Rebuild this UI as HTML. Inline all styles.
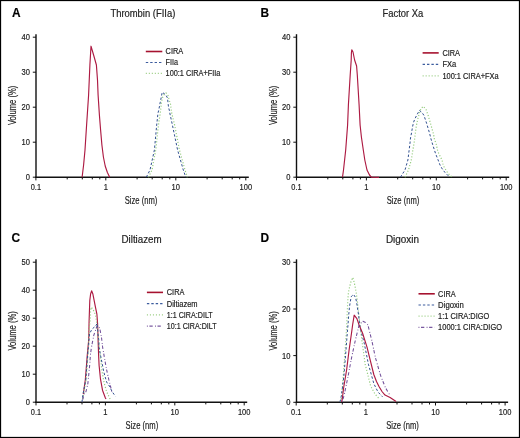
<!DOCTYPE html>
<html><head><meta charset="utf-8"><style>
html,body{margin:0;padding:0;background:#fff;}
svg{display:block;font-family:"Liberation Sans", sans-serif;will-change:transform;}
text{stroke:#222;stroke-width:0.18px;}
</style></head><body>
<svg width="520" height="438" viewBox="0 0 520 438">
<rect x="0" y="0" width="520" height="438" fill="#fff"/>
<rect x="0.5" y="0.5" width="519" height="437" fill="none" stroke="#000" stroke-width="1.25"/>
<text x="12.0" y="16.7" font-size="11.9" font-weight="bold" fill="#000">A</text>
<text x="142.85" y="16.8" font-size="10" fill="#222" text-anchor="middle" textLength="64.9" lengthAdjust="spacingAndGlyphs">Thrombin (FIIa)</text>
<line x1="36.0" y1="34.2" x2="36.0" y2="177.9" stroke="#111" stroke-width="1.4"/>
<line x1="35.3" y1="177.2" x2="248.8" y2="177.2" stroke="#111" stroke-width="1.4"/>
<line x1="32.8" y1="177.2" x2="36.0" y2="177.2" stroke="#111" stroke-width="1"/>
<text x="30.0" y="180.2" font-size="8.6" fill="#222" text-anchor="end" textLength="4.2" lengthAdjust="spacingAndGlyphs">0</text>
<line x1="32.8" y1="142.2" x2="36.0" y2="142.2" stroke="#111" stroke-width="1"/>
<text x="30.0" y="145.2" font-size="8.6" fill="#222" text-anchor="end" textLength="8.4" lengthAdjust="spacingAndGlyphs">10</text>
<line x1="32.8" y1="107.2" x2="36.0" y2="107.2" stroke="#111" stroke-width="1"/>
<text x="30.0" y="110.2" font-size="8.6" fill="#222" text-anchor="end" textLength="8.4" lengthAdjust="spacingAndGlyphs">20</text>
<line x1="32.8" y1="72.2" x2="36.0" y2="72.2" stroke="#111" stroke-width="1"/>
<text x="30.0" y="75.2" font-size="8.6" fill="#222" text-anchor="end" textLength="8.4" lengthAdjust="spacingAndGlyphs">30</text>
<line x1="32.8" y1="37.2" x2="36.0" y2="37.2" stroke="#111" stroke-width="1"/>
<text x="30.0" y="40.2" font-size="8.6" fill="#222" text-anchor="end" textLength="8.4" lengthAdjust="spacingAndGlyphs">40</text>
<line x1="35.9" y1="177.2" x2="35.9" y2="180.4" stroke="#111" stroke-width="1"/>
<line x1="67.2" y1="177.2" x2="67.2" y2="179.4" stroke="#111" stroke-width="1"/>
<line x1="82.3" y1="177.2" x2="82.3" y2="179.4" stroke="#111" stroke-width="1"/>
<line x1="92.3" y1="177.2" x2="92.3" y2="179.4" stroke="#111" stroke-width="1"/>
<line x1="99.8" y1="177.2" x2="99.8" y2="179.4" stroke="#111" stroke-width="1"/>
<line x1="105.8" y1="177.2" x2="105.8" y2="180.4" stroke="#111" stroke-width="1"/>
<line x1="137.1" y1="177.2" x2="137.1" y2="179.4" stroke="#111" stroke-width="1"/>
<line x1="152.2" y1="177.2" x2="152.2" y2="179.4" stroke="#111" stroke-width="1"/>
<line x1="162.2" y1="177.2" x2="162.2" y2="179.4" stroke="#111" stroke-width="1"/>
<line x1="169.8" y1="177.2" x2="169.8" y2="179.4" stroke="#111" stroke-width="1"/>
<line x1="175.8" y1="177.2" x2="175.8" y2="180.4" stroke="#111" stroke-width="1"/>
<line x1="207.1" y1="177.2" x2="207.1" y2="179.4" stroke="#111" stroke-width="1"/>
<line x1="222.2" y1="177.2" x2="222.2" y2="179.4" stroke="#111" stroke-width="1"/>
<line x1="232.2" y1="177.2" x2="232.2" y2="179.4" stroke="#111" stroke-width="1"/>
<line x1="239.7" y1="177.2" x2="239.7" y2="179.4" stroke="#111" stroke-width="1"/>
<line x1="245.8" y1="177.2" x2="245.8" y2="180.4" stroke="#111" stroke-width="1"/>
<text x="35.9" y="190.3" font-size="8.6" fill="#222" text-anchor="middle" textLength="10.3" lengthAdjust="spacingAndGlyphs">0.1</text>
<text x="105.8" y="190.3" font-size="8.6" fill="#222" text-anchor="middle" textLength="4.2" lengthAdjust="spacingAndGlyphs">1</text>
<text x="175.8" y="190.3" font-size="8.6" fill="#222" text-anchor="middle" textLength="8.4" lengthAdjust="spacingAndGlyphs">10</text>
<text x="245.8" y="190.3" font-size="8.6" fill="#222" text-anchor="middle" textLength="12.5" lengthAdjust="spacingAndGlyphs">100</text>
<text x="141.0" y="203.5" font-size="10.8" fill="#222" text-anchor="middle" textLength="32.6" lengthAdjust="spacingAndGlyphs">Size (nm)</text>
<text transform="translate(16.0,105.4) rotate(-90)" x="0" y="0" font-size="10.0" fill="#222" text-anchor="middle" textLength="39.4" lengthAdjust="spacingAndGlyphs">Volume (%)</text>
<line x1="145.8" y1="51.5" x2="162.3" y2="51.5" stroke="#a6122f"  stroke-width="1.6"/>
<text x="165.6" y="54.4" font-size="8.4" fill="#222" textLength="17.6" lengthAdjust="spacingAndGlyphs">CIRA</text>
<line x1="145.8" y1="62.5" x2="162.3" y2="62.5" stroke="#3c5c9e" stroke-dasharray="2.4 2.0" stroke-width="1.2"/>
<text x="165.6" y="65.4" font-size="8.4" fill="#222" textLength="12.5" lengthAdjust="spacingAndGlyphs">FIIa</text>
<line x1="145.8" y1="73.4" x2="162.3" y2="73.4" stroke="#a2d18c" stroke-dasharray="1.1 1.9" stroke-width="1.3"/>
<text x="165.6" y="76.3" font-size="8.4" fill="#222" textLength="54.8" lengthAdjust="spacingAndGlyphs">100:1 CIRA+FIIa</text>
<polyline points="82.1,177.2 83.6,165.0 85.0,150.0 86.6,125.0 88.6,95.0 89.9,65.0 91.0,46.2 93.6,55.0 96.4,65.0 97.5,80.0 98.1,95.0 99.4,115.0 100.6,130.0 101.9,145.0 103.4,157.0 105.2,166.0 107.4,172.5 109.7,177.2" fill="none" stroke="#ad1a42"  stroke-width="1.15" stroke-linejoin="round"/>
<polyline points="146.3,177.2 150.0,170.0 154.4,150.0 156.7,125.0 158.0,113.0 158.8,110.0 159.8,104.5 160.5,101.0 161.5,96.0 162.2,92.2 165.8,94.9 167.5,98.0 168.0,102.5 168.5,107.0 169.5,111.0 170.0,114.0 172.4,125.0 177.6,150.0 183.3,170.0 185.8,177.2" fill="none" stroke="#30508f" stroke-dasharray="2.4 2.0" stroke-width="1.0" stroke-linejoin="round"/>
<polyline points="148.5,177.2 152.0,170.0 155.7,150.0 158.5,125.0 160.5,111.0 161.0,107.0 161.5,102.0 162.3,98.5 163.2,95.5 166.0,92.9 168.0,95.5 169.5,101.0 170.5,104.0 171.0,108.0 171.7,113.0 174.6,125.0 179.5,150.0 185.0,170.0 187.4,177.2" fill="none" stroke="#93cb7c" stroke-dasharray="1.1 1.9" stroke-width="1.2" stroke-linejoin="round"/>
<text x="260.6" y="16.6" font-size="11.9" font-weight="bold" fill="#000">B</text>
<text x="402.9" y="16.8" font-size="10" fill="#222" text-anchor="middle" textLength="40.8" lengthAdjust="spacingAndGlyphs">Factor Xa</text>
<line x1="296.5" y1="34.2" x2="296.5" y2="177.9" stroke="#111" stroke-width="1.4"/>
<line x1="295.8" y1="177.2" x2="509.2" y2="177.2" stroke="#111" stroke-width="1.4"/>
<line x1="293.3" y1="177.2" x2="296.5" y2="177.2" stroke="#111" stroke-width="1"/>
<text x="290.5" y="180.2" font-size="8.6" fill="#222" text-anchor="end" textLength="4.2" lengthAdjust="spacingAndGlyphs">0</text>
<line x1="293.3" y1="142.2" x2="296.5" y2="142.2" stroke="#111" stroke-width="1"/>
<text x="290.5" y="145.2" font-size="8.6" fill="#222" text-anchor="end" textLength="8.4" lengthAdjust="spacingAndGlyphs">10</text>
<line x1="293.3" y1="107.2" x2="296.5" y2="107.2" stroke="#111" stroke-width="1"/>
<text x="290.5" y="110.2" font-size="8.6" fill="#222" text-anchor="end" textLength="8.4" lengthAdjust="spacingAndGlyphs">20</text>
<line x1="293.3" y1="72.2" x2="296.5" y2="72.2" stroke="#111" stroke-width="1"/>
<text x="290.5" y="75.2" font-size="8.6" fill="#222" text-anchor="end" textLength="8.4" lengthAdjust="spacingAndGlyphs">30</text>
<line x1="293.3" y1="37.2" x2="296.5" y2="37.2" stroke="#111" stroke-width="1"/>
<text x="290.5" y="40.2" font-size="8.6" fill="#222" text-anchor="end" textLength="8.4" lengthAdjust="spacingAndGlyphs">40</text>
<line x1="296.5" y1="177.2" x2="296.5" y2="180.4" stroke="#111" stroke-width="1"/>
<line x1="327.8" y1="177.2" x2="327.8" y2="179.4" stroke="#111" stroke-width="1"/>
<line x1="342.8" y1="177.2" x2="342.8" y2="179.4" stroke="#111" stroke-width="1"/>
<line x1="352.9" y1="177.2" x2="352.9" y2="179.4" stroke="#111" stroke-width="1"/>
<line x1="360.4" y1="177.2" x2="360.4" y2="179.4" stroke="#111" stroke-width="1"/>
<line x1="366.4" y1="177.2" x2="366.4" y2="180.4" stroke="#111" stroke-width="1"/>
<line x1="397.7" y1="177.2" x2="397.7" y2="179.4" stroke="#111" stroke-width="1"/>
<line x1="412.7" y1="177.2" x2="412.7" y2="179.4" stroke="#111" stroke-width="1"/>
<line x1="422.8" y1="177.2" x2="422.8" y2="179.4" stroke="#111" stroke-width="1"/>
<line x1="430.3" y1="177.2" x2="430.3" y2="179.4" stroke="#111" stroke-width="1"/>
<line x1="436.3" y1="177.2" x2="436.3" y2="180.4" stroke="#111" stroke-width="1"/>
<line x1="467.6" y1="177.2" x2="467.6" y2="179.4" stroke="#111" stroke-width="1"/>
<line x1="482.6" y1="177.2" x2="482.6" y2="179.4" stroke="#111" stroke-width="1"/>
<line x1="492.7" y1="177.2" x2="492.7" y2="179.4" stroke="#111" stroke-width="1"/>
<line x1="500.2" y1="177.2" x2="500.2" y2="179.4" stroke="#111" stroke-width="1"/>
<line x1="506.2" y1="177.2" x2="506.2" y2="180.4" stroke="#111" stroke-width="1"/>
<text x="296.5" y="190.3" font-size="8.6" fill="#222" text-anchor="middle" textLength="10.3" lengthAdjust="spacingAndGlyphs">0.1</text>
<text x="366.4" y="190.3" font-size="8.6" fill="#222" text-anchor="middle" textLength="4.2" lengthAdjust="spacingAndGlyphs">1</text>
<text x="436.3" y="190.3" font-size="8.6" fill="#222" text-anchor="middle" textLength="8.4" lengthAdjust="spacingAndGlyphs">10</text>
<text x="506.2" y="190.3" font-size="8.6" fill="#222" text-anchor="middle" textLength="12.5" lengthAdjust="spacingAndGlyphs">100</text>
<text x="403.0" y="203.5" font-size="10.8" fill="#222" text-anchor="middle" textLength="32.6" lengthAdjust="spacingAndGlyphs">Size (nm)</text>
<text transform="translate(276.5,105.4) rotate(-90)" x="0" y="0" font-size="10.0" fill="#222" text-anchor="middle" textLength="39.4" lengthAdjust="spacingAndGlyphs">Volume (%)</text>
<line x1="422.6" y1="52.9" x2="438.7" y2="52.9" stroke="#a6122f"  stroke-width="1.6"/>
<text x="442.4" y="55.8" font-size="8.4" fill="#222" textLength="17.6" lengthAdjust="spacingAndGlyphs">CIRA</text>
<line x1="422.6" y1="64.3" x2="438.7" y2="64.3" stroke="#3c5c9e" stroke-dasharray="2.4 2.0" stroke-width="1.2"/>
<text x="442.4" y="67.2" font-size="8.4" fill="#222" textLength="13.8" lengthAdjust="spacingAndGlyphs">FXa</text>
<line x1="422.6" y1="75.8" x2="438.7" y2="75.8" stroke="#a2d18c" stroke-dasharray="1.1 1.9" stroke-width="1.3"/>
<text x="442.4" y="78.7" font-size="8.4" fill="#222" textLength="56.2" lengthAdjust="spacingAndGlyphs">100:1 CIRA+FXa</text>
<polyline points="342.5,177.2 343.5,170.0 345.7,150.0 347.6,125.0 348.4,105.0 350.2,75.0 351.2,60.0 351.4,53.0 351.8,49.8 353.0,52.0 354.6,60.0 356.6,66.0 357.3,75.0 359.1,105.0 360.1,125.0 361.4,137.0 363.3,150.0 364.8,160.0 367.0,170.0 369.5,175.0 371.4,177.2 379.0,177.4" fill="none" stroke="#ad1a42"  stroke-width="1.15" stroke-linejoin="round"/>
<polyline points="400.4,177.2 405.0,170.0 407.9,160.0 409.9,144.0 410.5,138.0 411.5,133.0 412.5,127.0 413.5,122.5 414.8,119.0 416.6,115.5 419.4,110.4 422.0,112.5 424.0,115.5 425.5,120.0 427.0,124.5 428.0,128.0 429.5,133.0 431.0,139.0 432.5,144.0 435.4,153.1 436.9,157.0 438.5,161.0 440.0,165.0 442.3,169.0 445.0,172.5 448.0,175.5 449.0,177.2" fill="none" stroke="#30508f" stroke-dasharray="2.4 2.0" stroke-width="1.0" stroke-linejoin="round"/>
<polyline points="405.0,177.2 408.5,170.0 411.3,160.0 414.5,140.0 415.5,132.0 416.5,125.0 418.0,118.0 419.5,113.0 421.0,108.5 423.4,106.4 426.0,109.5 428.0,115.0 429.5,120.0 431.5,127.0 433.5,134.0 434.5,140.0 436.0,143.0 437.7,151.0 439.0,154.0 440.5,157.0 442.0,160.0 443.0,164.0 444.5,168.0 446.0,170.0 447.5,172.5 449.5,175.0 452.0,177.2" fill="none" stroke="#93cb7c" stroke-dasharray="1.1 1.9" stroke-width="1.2" stroke-linejoin="round"/>
<text x="11.6" y="241.9" font-size="11.9" font-weight="bold" fill="#000">C</text>
<text x="141.6" y="242.7" font-size="10" fill="#222" text-anchor="middle" textLength="40.2" lengthAdjust="spacingAndGlyphs">Diltiazem</text>
<line x1="36.0" y1="259.2" x2="36.0" y2="402.9" stroke="#111" stroke-width="1.4"/>
<line x1="35.3" y1="402.2" x2="247.2" y2="402.2" stroke="#111" stroke-width="1.4"/>
<line x1="32.8" y1="402.2" x2="36.0" y2="402.2" stroke="#111" stroke-width="1"/>
<text x="30.0" y="405.2" font-size="8.6" fill="#222" text-anchor="end" textLength="4.2" lengthAdjust="spacingAndGlyphs">0</text>
<line x1="32.8" y1="374.2" x2="36.0" y2="374.2" stroke="#111" stroke-width="1"/>
<text x="30.0" y="377.2" font-size="8.6" fill="#222" text-anchor="end" textLength="8.4" lengthAdjust="spacingAndGlyphs">10</text>
<line x1="32.8" y1="346.2" x2="36.0" y2="346.2" stroke="#111" stroke-width="1"/>
<text x="30.0" y="349.2" font-size="8.6" fill="#222" text-anchor="end" textLength="8.4" lengthAdjust="spacingAndGlyphs">20</text>
<line x1="32.8" y1="318.2" x2="36.0" y2="318.2" stroke="#111" stroke-width="1"/>
<text x="30.0" y="321.2" font-size="8.6" fill="#222" text-anchor="end" textLength="8.4" lengthAdjust="spacingAndGlyphs">30</text>
<line x1="32.8" y1="290.2" x2="36.0" y2="290.2" stroke="#111" stroke-width="1"/>
<text x="30.0" y="293.2" font-size="8.6" fill="#222" text-anchor="end" textLength="8.4" lengthAdjust="spacingAndGlyphs">40</text>
<line x1="32.8" y1="262.2" x2="36.0" y2="262.2" stroke="#111" stroke-width="1"/>
<text x="30.0" y="265.2" font-size="8.6" fill="#222" text-anchor="end" textLength="8.4" lengthAdjust="spacingAndGlyphs">50</text>
<line x1="36.0" y1="402.2" x2="36.0" y2="405.4" stroke="#111" stroke-width="1"/>
<line x1="67.0" y1="402.2" x2="67.0" y2="404.4" stroke="#111" stroke-width="1"/>
<line x1="82.0" y1="402.2" x2="82.0" y2="404.4" stroke="#111" stroke-width="1"/>
<line x1="91.9" y1="402.2" x2="91.9" y2="404.4" stroke="#111" stroke-width="1"/>
<line x1="99.4" y1="402.2" x2="99.4" y2="404.4" stroke="#111" stroke-width="1"/>
<line x1="105.4" y1="402.2" x2="105.4" y2="405.4" stroke="#111" stroke-width="1"/>
<line x1="136.4" y1="402.2" x2="136.4" y2="404.4" stroke="#111" stroke-width="1"/>
<line x1="151.4" y1="402.2" x2="151.4" y2="404.4" stroke="#111" stroke-width="1"/>
<line x1="161.3" y1="402.2" x2="161.3" y2="404.4" stroke="#111" stroke-width="1"/>
<line x1="168.8" y1="402.2" x2="168.8" y2="404.4" stroke="#111" stroke-width="1"/>
<line x1="174.8" y1="402.2" x2="174.8" y2="405.4" stroke="#111" stroke-width="1"/>
<line x1="205.8" y1="402.2" x2="205.8" y2="404.4" stroke="#111" stroke-width="1"/>
<line x1="220.8" y1="402.2" x2="220.8" y2="404.4" stroke="#111" stroke-width="1"/>
<line x1="230.7" y1="402.2" x2="230.7" y2="404.4" stroke="#111" stroke-width="1"/>
<line x1="238.2" y1="402.2" x2="238.2" y2="404.4" stroke="#111" stroke-width="1"/>
<line x1="244.2" y1="402.2" x2="244.2" y2="405.4" stroke="#111" stroke-width="1"/>
<text x="36.0" y="415.3" font-size="8.6" fill="#222" text-anchor="middle" textLength="10.3" lengthAdjust="spacingAndGlyphs">0.1</text>
<text x="105.4" y="415.3" font-size="8.6" fill="#222" text-anchor="middle" textLength="4.2" lengthAdjust="spacingAndGlyphs">1</text>
<text x="174.8" y="415.3" font-size="8.6" fill="#222" text-anchor="middle" textLength="8.4" lengthAdjust="spacingAndGlyphs">10</text>
<text x="244.2" y="415.3" font-size="8.6" fill="#222" text-anchor="middle" textLength="12.5" lengthAdjust="spacingAndGlyphs">100</text>
<text x="141.9" y="428.5" font-size="10.8" fill="#222" text-anchor="middle" textLength="32.6" lengthAdjust="spacingAndGlyphs">Size (nm)</text>
<text transform="translate(16.0,330.9) rotate(-90)" x="0" y="0" font-size="10.0" fill="#222" text-anchor="middle" textLength="39.4" lengthAdjust="spacingAndGlyphs">Volume (%)</text>
<line x1="146.9" y1="292.4" x2="163.0" y2="292.4" stroke="#a6122f"  stroke-width="1.6"/>
<text x="166.8" y="295.3" font-size="8.4" fill="#222" textLength="17.6" lengthAdjust="spacingAndGlyphs">CIRA</text>
<line x1="146.9" y1="303.7" x2="163.0" y2="303.7" stroke="#3c5c9e" stroke-dasharray="2.4 2.0" stroke-width="1.2"/>
<text x="166.8" y="306.6" font-size="8.4" fill="#222" textLength="30.8" lengthAdjust="spacingAndGlyphs">Diltiazem</text>
<line x1="146.9" y1="314.9" x2="163.0" y2="314.9" stroke="#a2d18c" stroke-dasharray="1.1 1.9" stroke-width="1.3"/>
<text x="166.8" y="317.8" font-size="8.4" fill="#222" textLength="45.9" lengthAdjust="spacingAndGlyphs">1:1 CIRA:DILT</text>
<line x1="146.9" y1="326.2" x2="163.0" y2="326.2" stroke="#7a5aa0" stroke-dasharray="0.9 1.6 3.3 2.3" stroke-width="1.3"/>
<text x="166.8" y="329.1" font-size="8.4" fill="#222" textLength="49.8" lengthAdjust="spacingAndGlyphs">10:1 CIRA:DILT</text>
<polyline points="83.3,394.2 85.3,380.0 87.3,355.0 88.7,340.0 89.1,321.0 89.8,300.5 90.6,294.0 91.6,290.8 92.8,293.7 95.5,307.4 96.9,314.2 97.6,323.8 98.1,340.0 98.6,355.0 99.1,365.5 100.5,379.2 102.5,390.2 105.3,397.7 106.0,399.0" fill="none" stroke="#ad1a42"  stroke-width="1.15" stroke-linejoin="round"/>
<polyline points="82.0,402.0 83.5,395.0 86.0,380.0 88.0,355.0 89.3,328.5 89.5,325.5 90.0,322.0 90.5,316.5 90.5,310.5 91.3,307.2 93.0,309.5 94.5,312.5 95.5,315.0 96.0,318.0 96.5,321.0 97.5,330.0 99.8,351.8 101.8,369.7 103.9,382.0 106.6,391.6 110.1,399.1" fill="none" stroke="#93cb7c" stroke-dasharray="1.1 1.9" stroke-width="1.2" stroke-linejoin="round"/>
<polyline points="82.0,402.0 82.8,395.0 85.8,380.0 87.6,355.0 88.2,349.3 88.7,344.8 89.1,337.4 89.6,333.8 91.9,329.2 95.1,326.5 97.4,323.3 97.8,332.9 98.7,339.3 99.1,347.7 101.2,358.7 103.9,372.4 106.6,382.0 109.4,386.1 112.1,391.6 115.5,396.4" fill="none" stroke="#30508f" stroke-dasharray="2.4 2.0" stroke-width="1.0" stroke-linejoin="round"/>
<polyline points="82.0,402.0 84.2,394.2 86.0,391.5 87.9,383.3 89.7,365.0 90.4,355.0 91.4,347.5 92.3,342.9 93.7,335.6 94.6,332.9 97.0,326.0 98.7,326.0 100.1,330.1 101.5,337.4 102.5,346.4 104.6,358.7 106.6,369.7 108.7,379.2 110.8,387.5 112.1,393.0" fill="none" stroke="#704e99" stroke-dasharray="0.9 1.6 3.3 2.3" stroke-width="1.05" stroke-linejoin="round"/>
<text x="260.6" y="241.9" font-size="11.9" font-weight="bold" fill="#000">D</text>
<text x="402.5" y="242.7" font-size="10" fill="#222" text-anchor="middle" textLength="33.1" lengthAdjust="spacingAndGlyphs">Digoxin</text>
<line x1="296.5" y1="259.3" x2="296.5" y2="403.0" stroke="#111" stroke-width="1.4"/>
<line x1="295.8" y1="402.3" x2="508.1" y2="402.3" stroke="#111" stroke-width="1.4"/>
<line x1="293.3" y1="402.3" x2="296.5" y2="402.3" stroke="#111" stroke-width="1"/>
<text x="290.5" y="405.3" font-size="8.6" fill="#222" text-anchor="end" textLength="4.2" lengthAdjust="spacingAndGlyphs">0</text>
<line x1="293.3" y1="355.6" x2="296.5" y2="355.6" stroke="#111" stroke-width="1"/>
<text x="290.5" y="358.6" font-size="8.6" fill="#222" text-anchor="end" textLength="8.4" lengthAdjust="spacingAndGlyphs">10</text>
<line x1="293.3" y1="309.0" x2="296.5" y2="309.0" stroke="#111" stroke-width="1"/>
<text x="290.5" y="312.0" font-size="8.6" fill="#222" text-anchor="end" textLength="8.4" lengthAdjust="spacingAndGlyphs">20</text>
<line x1="293.3" y1="262.3" x2="296.5" y2="262.3" stroke="#111" stroke-width="1"/>
<text x="290.5" y="265.3" font-size="8.6" fill="#222" text-anchor="end" textLength="8.4" lengthAdjust="spacingAndGlyphs">30</text>
<line x1="296.2" y1="402.3" x2="296.2" y2="405.5" stroke="#111" stroke-width="1"/>
<line x1="327.3" y1="402.3" x2="327.3" y2="404.5" stroke="#111" stroke-width="1"/>
<line x1="342.3" y1="402.3" x2="342.3" y2="404.5" stroke="#111" stroke-width="1"/>
<line x1="352.3" y1="402.3" x2="352.3" y2="404.5" stroke="#111" stroke-width="1"/>
<line x1="359.8" y1="402.3" x2="359.8" y2="404.5" stroke="#111" stroke-width="1"/>
<line x1="365.8" y1="402.3" x2="365.8" y2="405.5" stroke="#111" stroke-width="1"/>
<line x1="397.0" y1="402.3" x2="397.0" y2="404.5" stroke="#111" stroke-width="1"/>
<line x1="412.0" y1="402.3" x2="412.0" y2="404.5" stroke="#111" stroke-width="1"/>
<line x1="422.0" y1="402.3" x2="422.0" y2="404.5" stroke="#111" stroke-width="1"/>
<line x1="429.5" y1="402.3" x2="429.5" y2="404.5" stroke="#111" stroke-width="1"/>
<line x1="435.5" y1="402.3" x2="435.5" y2="405.5" stroke="#111" stroke-width="1"/>
<line x1="466.6" y1="402.3" x2="466.6" y2="404.5" stroke="#111" stroke-width="1"/>
<line x1="481.6" y1="402.3" x2="481.6" y2="404.5" stroke="#111" stroke-width="1"/>
<line x1="491.6" y1="402.3" x2="491.6" y2="404.5" stroke="#111" stroke-width="1"/>
<line x1="499.1" y1="402.3" x2="499.1" y2="404.5" stroke="#111" stroke-width="1"/>
<line x1="505.1" y1="402.3" x2="505.1" y2="405.5" stroke="#111" stroke-width="1"/>
<text x="296.2" y="415.4" font-size="8.6" fill="#222" text-anchor="middle" textLength="10.3" lengthAdjust="spacingAndGlyphs">0.1</text>
<text x="365.8" y="415.4" font-size="8.6" fill="#222" text-anchor="middle" textLength="4.2" lengthAdjust="spacingAndGlyphs">1</text>
<text x="435.5" y="415.4" font-size="8.6" fill="#222" text-anchor="middle" textLength="8.4" lengthAdjust="spacingAndGlyphs">10</text>
<text x="505.1" y="415.4" font-size="8.6" fill="#222" text-anchor="middle" textLength="12.5" lengthAdjust="spacingAndGlyphs">100</text>
<text x="402.5" y="428.6" font-size="10.8" fill="#222" text-anchor="middle" textLength="32.6" lengthAdjust="spacingAndGlyphs">Size (nm)</text>
<text transform="translate(276.5,330.9) rotate(-90)" x="0" y="0" font-size="10.0" fill="#222" text-anchor="middle" textLength="39.4" lengthAdjust="spacingAndGlyphs">Volume (%)</text>
<line x1="418.5" y1="293.8" x2="434.8" y2="293.8" stroke="#a6122f"  stroke-width="1.6"/>
<text x="438.1" y="296.7" font-size="8.4" fill="#222" textLength="17.6" lengthAdjust="spacingAndGlyphs">CIRA</text>
<line x1="418.5" y1="305.0" x2="434.8" y2="305.0" stroke="#3c5c9e" stroke-dasharray="2.4 2.0" stroke-width="1.2"/>
<text x="438.1" y="307.9" font-size="8.4" fill="#222" textLength="25.8" lengthAdjust="spacingAndGlyphs">Digoxin</text>
<line x1="418.5" y1="316.2" x2="434.8" y2="316.2" stroke="#a2d18c" stroke-dasharray="1.1 1.9" stroke-width="1.3"/>
<text x="438.1" y="319.1" font-size="8.4" fill="#222" textLength="51.2" lengthAdjust="spacingAndGlyphs">1:1 CIRA:DIGO</text>
<line x1="418.5" y1="327.4" x2="434.8" y2="327.4" stroke="#7a5aa0" stroke-dasharray="0.9 1.6 3.3 2.3" stroke-width="1.3"/>
<text x="438.1" y="330.3" font-size="8.4" fill="#222" textLength="63.9" lengthAdjust="spacingAndGlyphs">1000:1 CIRA:DIGO</text>
<polyline points="340.5,402.0 341.5,398.0 343.0,380.0 345.0,352.4 346.6,327.5 347.0,318.0 347.3,311.1 347.6,304.2 348.0,297.4 348.4,292.6 349.4,287.8 350.8,282.3 352.8,277.5 354.2,282.3 355.3,287.8 356.2,292.6 357.5,302.0 358.5,312.0 360.0,325.0 360.8,331.7 362.5,345.0 365.2,364.2 370.6,385.9 375.0,394.0 379.3,398.9" fill="none" stroke="#93cb7c" stroke-dasharray="1.1 1.9" stroke-width="1.2" stroke-linejoin="round"/>
<polyline points="340.0,402.0 341.5,395.0 344.0,375.0 346.0,350.0 347.6,328.9 348.0,324.8 348.7,315.2 349.4,307.7 350.1,302.9 351.2,296.7 353.5,294.4 355.5,297.4 356.6,302.2 357.3,307.0 358.0,311.1 358.6,315.2 359.4,322.1 360.1,327.5 362.0,335.0 364.1,342.5 368.4,364.2 373.9,383.8 378.0,392.0 382.5,396.8" fill="none" stroke="#30508f" stroke-dasharray="2.4 2.0" stroke-width="1.0" stroke-linejoin="round"/>
<polyline points="341.5,402.0 342.3,399.0 343.6,388.0 346.6,370.0 349.1,350.0 351.6,332.5 352.6,325.0 354.2,315.2 356.9,318.6 359.1,325.0 362.5,333.0 367.0,347.1 370.4,360.8 373.8,374.5 376.5,381.5 379.0,386.5 382.0,391.5 385.0,395.1 390.1,397.6 396.1,401.6" fill="none" stroke="#ad1a42"  stroke-width="1.15" stroke-linejoin="round"/>
<polyline points="342.3,401.6 344.1,395.3 347.8,377.7 351.6,357.6 355.4,340.0 359.1,325.0 362.9,321.3 365.5,322.5 367.9,325.0 371.7,340.0 375.4,357.6 380.5,375.2 385.5,387.8 390.0,395.3" fill="none" stroke="#704e99" stroke-dasharray="0.9 1.6 3.3 2.3" stroke-width="1.05" stroke-linejoin="round"/>
</svg>
</body></html>
